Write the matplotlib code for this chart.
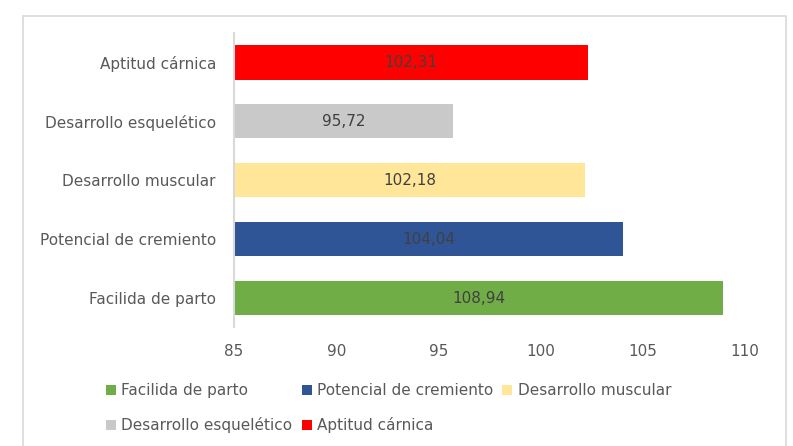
import matplotlib.pyplot as plt
from matplotlib.patches import Patch, Rectangle

# data
categories = ["Facilida de parto", "Potencial de cremiento", "Desarrollo muscular",
              "Desarrollo esquelético", "Aptitud cárnica"]
values = [108.94, 104.04, 102.18, 95.72, 102.31]
colors = ["#70AD47", "#2F5597", "#FFE699", "#C9C9C9", "#FF0000"]
labels = ["108,94", "104,04", "102,18", "95,72", "102,31"]
xticks = [85, 90, 95, 100, 105, 110]

plt.rcParams['font.family'] = ['DejaVu Sans']
fs = 11

fig = plt.figure(figsize=(7.93, 4.46), dpi=100)
ax = fig.add_axes([234/793, 1 - 327.5/446, 511/793, 294.5/446])

base = 85
ypos = list(range(len(categories)))
ax.barh(ypos, [v - base for v in values], left=base, height=0.58, color=colors)
for y, v, lab in zip(ypos, values, labels):
    ax.text((base + v) / 2, y, lab, ha='center', va='center', fontsize=fs, color='#404040')

ax.set_xlim(85, 110)
ax.set_ylim(-0.5, 4.5)
ax.set_xticks(xticks)
ax.set_xticklabels([str(t) for t in xticks])
ax.set_yticks(ypos)
ax.set_yticklabels(categories)
ax.tick_params(axis='both', length=0, labelsize=fs, labelcolor='#595959')
ax.tick_params(axis='x', pad=12)
ax.tick_params(axis='y', pad=13)
for s in ['top', 'right', 'bottom']:
    ax.spines[s].set_visible(False)
ax.spines['left'].set_color('#D9D9D9')
ax.spines['left'].set_linewidth(1.5)

# legend: column-first order so rows read like the original
order = [0, 3, 1, 4, 2]
handles = [Patch(facecolor=colors[i], label=categories[i]) for i in order]
fig.legend(handles=handles, ncol=3, loc='upper left', bbox_to_anchor=(106/793, 1 - 383/446),
           frameon=False, fontsize=fs, labelcolor='#595959', handlelength=0.65, handleheight=0.65,
           handletextpad=0.35, columnspacing=0.6, labelspacing=1.25, borderaxespad=0, borderpad=0)

# outer chart border
fig.patches.append(Rectangle((23/793, -0.05), (786 - 23)/793, 1.05 - 16/446,
                             transform=fig.transFigure, fill=False, edgecolor='#D9D9D9', linewidth=1.2))

fig.savefig('out.png', dpi=100)
